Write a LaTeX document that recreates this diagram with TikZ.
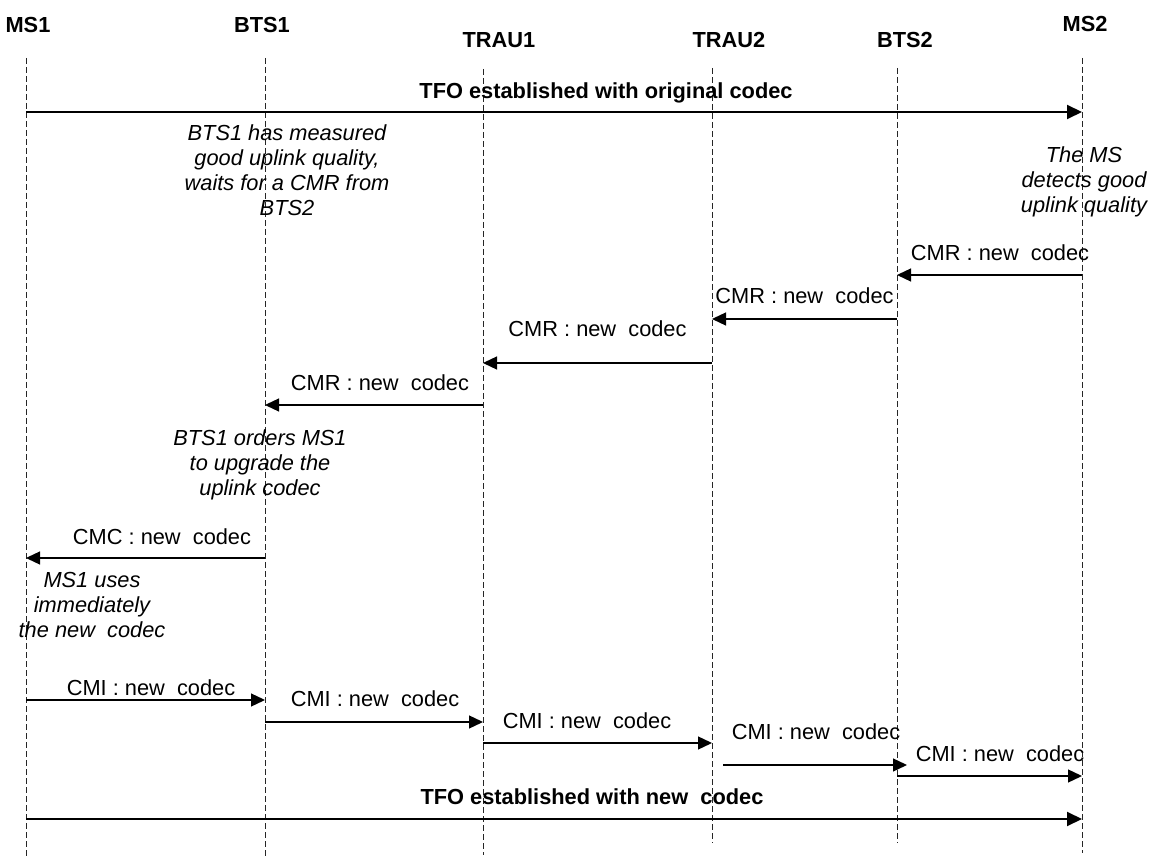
\documentclass[tikz,border=0pt]{standalone}
\usepackage{fontspec}
\setmainfont{Liberation Sans}
\usetikzlibrary{arrows.meta}
\tikzset{
  lifeline/.style={draw=black!85, line width=0.9pt, dash pattern=on 6pt off 3pt},
  msg/.style={draw, line width=1.3pt, -{Triangle[length=14pt,width=13pt]}},
  tfo/.style={draw, line width=2pt, -{Triangle[length=15pt,width=14pt]}},
  hdr/.style={font=\fontsize{21.8}{25}\selectfont\bfseries, inner sep=0pt, anchor=base},
  lbl/.style={font=\fontsize{21.8}{25}\selectfont, inner sep=0pt, anchor=base},
  tfolbl/.style={font=\fontsize{21.8}{25}\selectfont\bfseries, inner sep=0pt, anchor=base},
  note/.style={font=\fontsize{21.8}{25}\selectfont\itshape, inner sep=0pt, anchor=north, align=center},
}
\begin{document}
\begin{tikzpicture}[x=1pt,y=-1pt]
\useasboundingbox (0,0) rectangle (1152,858);
% headers
\node[hdr] (hms1)  at (28,33)   {MS1};
\node[hdr] (hbts1) at (262,33)  {BTS1};
\node[hdr] (htrau1) at (499,48) {TRAU1};
\node[hdr] (htrau2) at (729,48) {TRAU2};
\node[hdr] (hbts2) at (905,48)  {BTS2};
\node[hdr] (hms2)  at (1085,32) {MS2};
% lifelines
\coordinate (ms1)   at (26,58);   \coordinate (ms1b)   at (26,858);
\coordinate (bts1)  at (265,58);  \coordinate (bts1b)  at (265,858);
\coordinate (trau1) at (483,69);  \coordinate (trau1b) at (483,855);
\coordinate (trau2) at (712,68);  \coordinate (trau2b) at (712,843);
\coordinate (bts2)  at (897,68);  \coordinate (bts2b)  at (897,843);
\coordinate (ms2)   at (1082,58); \coordinate (ms2b)   at (1082,853);
\foreach \a/\b in {ms1/ms1b,bts1/bts1b,trau1/trau1b,trau2/trau2b,bts2/bts2b,ms2/ms2b}
  \draw[lifeline] (\a) -- (\b);
% TFO original
\draw[tfo] (ms1 |- 0,112) -- (ms2 |- 0,112);
\node[tfolbl] (tfo1) at (606,99) {TFO established with original codec};
% notes
\node[note] (n1) at (287,124.7) {BTS1 has measured\\good uplink quality,\\waits for a CMR from\\BTS2};
\node[note] (n2) at (1084,146.2) {The MS\\detects good\\uplink quality};
% CMR
\draw[msg] (ms2 |- 0,275) -- (bts2 |- 0,275);
\node[lbl] (cmr1) at (1000,260.5) {CMR : new~~codec};
\draw[msg] (bts2 |- 0,319) -- (trau2 |- 0,319);
\node[lbl] (cmr2) at (804.5,303.5) {CMR : new~~codec};
\draw[msg] (trau2 |- 0,363) -- (trau1 |- 0,363);
\node[lbl] (cmr3) at (597.5,336.5) {CMR : new~~codec};
\draw[msg] (trau1 |- 0,405) -- (bts1 |- 0,405);
\node[lbl] (cmr4) at (380,390.5) {CMR : new~~codec};
% note 3
\node[note] (n3) at (260,429.7) {BTS1 orders MS1\\to upgrade the\\uplink codec};
% CMC
\draw[msg] (bts1 |- 0,558) -- (ms1 |- 0,558);
\node[lbl] (cmc) at (162,544.5) {CMC : new~~codec};
\node[note] (n4) at (92,571.7) {MS1 uses\\immediately\\the new~~codec};
% CMI
\draw[msg] (ms1 |- 0,700) -- (bts1 |- 0,700);
\node[lbl] (cmi1) at (151,695.5) {CMI : new~~codec};
\draw[msg] (bts1 |- 0,722) -- (trau1 |- 0,722);
\node[lbl] (cmi2) at (375,706.5) {CMI : new~~codec};
\draw[msg] (trau1 |- 0,743) -- (trau2 |- 0,743);
\node[lbl] (cmi3) at (587,728.5) {CMI : new~~codec};
\draw[msg] ([xshift=11pt]trau2 |- 0,765) -- ([xshift=10pt]bts2 |- 0,765);
\node[lbl] (cmi4) at (816,739.5) {CMI : new~~codec};
\draw[msg] (bts2 |- 0,776) -- (ms2 |- 0,776);
\node[lbl] (cmi5) at (1000,761.5) {CMI : new~~codec};
% TFO new
\draw[tfo] (ms1 |- 0,819) -- (ms2 |- 0,819);
\node[tfolbl] (tfo2) at (592,804.5) {TFO established with new~~codec};
\end{tikzpicture}
\end{document}
